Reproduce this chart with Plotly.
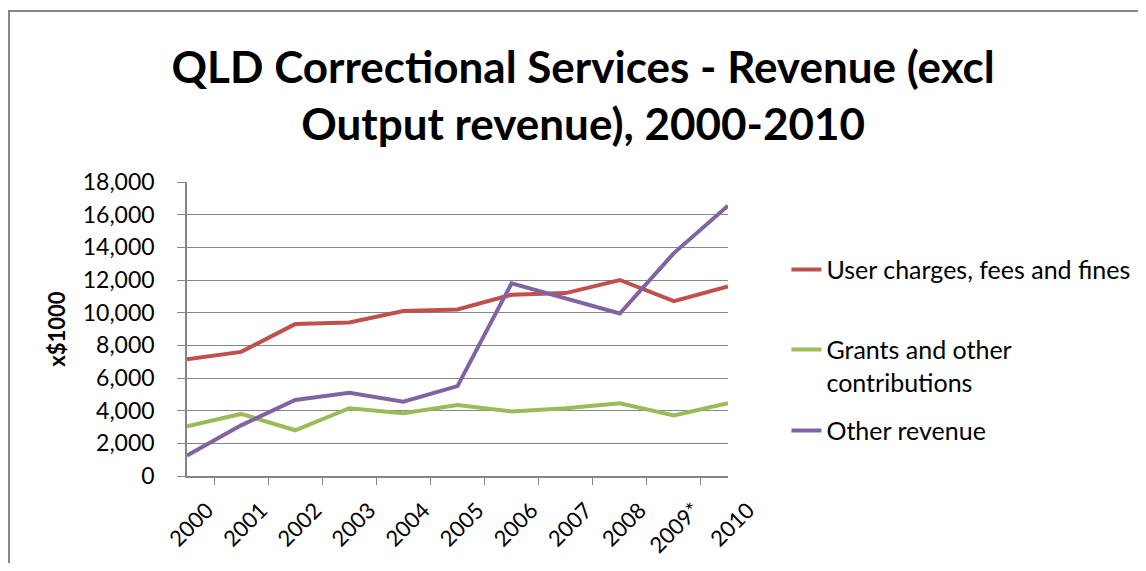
import plotly.graph_objects as go

years = ["2000", "2001", "2002", "2003", "2004", "2005", "2006", "2007", "2008", "2009*", "2010"]
user_charges = [7150, 7600, 9300, 9400, 10100, 10200, 11100, 11200, 12000, 10700, 11600]
grants = [3050, 3800, 2800, 4150, 3850, 4350, 3950, 4150, 4450, 3700, 4450]
other_revenue = [1250, 3100, 4650, 5100, 4550, 5500, 11800, 10900, 9950, 13650, 16550]

FONT = "Lato, Carlito, Calibri, sans-serif"
GRID = "#868686"

# page body has an 8px margin, so the figure is drawn 8px smaller on each side
W, H = 1130, 555
L, R, T, B = 179, 410, 174, 87
PW, PH = W - L - R, H - T - B

series = [
    ("User charges, fees and fines", user_charges, "#C0504D", "legend"),
    ("Grants and other<br>contributions", grants, "#9BBB59", "legend2"),
    ("Other revenue", other_revenue, "#8064A2", "legend3"),
]

fig = go.Figure()
for name, vals, color, leg in series:
    fig.add_trace(go.Scatter(x=years, y=vals, name=name, mode="lines",
                             line=dict(color=color, width=4), legend=leg))

leg_common = dict(font=dict(family=FONT, size=25, color="#000"), bgcolor="rgba(0,0,0,0)",
                  xanchor="left", yanchor="top", valign="top", itemwidth=30)
fig.update_layout(
    width=W, height=H, showlegend=True,
    margin=dict(l=L, r=R, t=T, b=B, autoexpand=False),
    paper_bgcolor="white", plot_bgcolor="white",
    font=dict(family=FONT, color="#000"),
    title=dict(text="<b>QLD Correctional Services - Revenue (excl<br>Output revenue), 2000-2010</b>",
               x=0.509, xanchor="center", y=0.865, yanchor="middle",
               font=dict(family=FONT, size=44, color="#000")),
    legend=dict(x=1.108, y=0.78, **leg_common),
    legend2=dict(x=1.108, y=0.508, **leg_common),
    legend3=dict(x=1.108, y=0.232, **leg_common),
    shapes=[dict(type="rect", xref="paper", yref="paper",
                 x0=(1 - L) / PW, x1=1.9, y0=-1, y1=(PH + T - 3) / PH,
                 line=dict(color="#878787", width=2), layer="below")],
)
fig.update_xaxes(type="category", tickson="boundaries", ticks="outside", ticklen=7,
                 tickcolor=GRID, showline=True, linecolor=GRID, linewidth=1.5,
                 showgrid=False, tickangle=-45, ticklabelshift=20, ticklabelstandoff=11,
                 automargin=False,
                 tickfont=dict(family=FONT, size=22, color="#000"))
fig.update_yaxes(range=[0, 18000], dtick=2000, tickformat=",", ticks="outside", ticklen=8,
                 tickcolor=GRID, showline=True, linecolor=GRID, linewidth=1.5,
                 gridcolor=GRID, gridwidth=1, zeroline=False, ticklabelstandoff=18,
                 automargin=False,
                 tickfont=dict(family=FONT, size=23, color="#000"),
                 title=dict(text="<b>x$1000</b>", standoff=11,
                            font=dict(family=FONT, size=22, color="#000")))

fig.write_html("out.html")
